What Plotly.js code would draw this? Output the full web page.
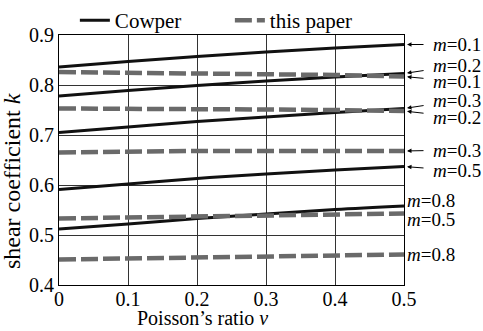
<!DOCTYPE html>
<html>
<head>
<meta charset="utf-8">
<script src="https://cdn.plot.ly/plotly-3.0.1.min.js"></script>
<style>html,body{margin:0;padding:0;background:#fff;}#chart{width:483px;height:331px;}</style>
</head>
<body>
<div id="chart"></div>
<script>
// Poisson's ratio samples
var nu = [0, 0.1, 0.2, 0.3, 0.4, 0.5];
// Cowper curves (solid black)
var cowperM01 = [0.836, 0.847, 0.857, 0.866, 0.874, 0.881];
var cowperM02 = [0.778, 0.789, 0.799, 0.808, 0.816, 0.823];
var cowperM03 = [0.705, 0.716, 0.727, 0.736, 0.745, 0.753];
var cowperM05 = [0.591, 0.602, 0.613, 0.622, 0.630, 0.637];
var cowperM08 = [0.512, 0.522, 0.533, 0.542, 0.551, 0.558];
// this paper curves (dashed gray)
var paperM01 = [0.826, 0.825, 0.824, 0.822, 0.820, 0.817];
var paperM02 = [0.753, 0.753, 0.752, 0.751, 0.750, 0.748];
var paperM03 = [0.665, 0.667, 0.668, 0.668, 0.668, 0.668];
var paperM05 = [0.533, 0.535, 0.537, 0.539, 0.541, 0.543];
var paperM08 = [0.451, 0.453, 0.455, 0.457, 0.459, 0.461];
var legendNames = ["Cowper", "this paper"];
var xTickVals = [0, 0.1, 0.2, 0.3, 0.4, 0.5];
var yTickVals = [0.4, 0.5, 0.6, 0.7, 0.8, 0.9];

var FONT = "Liberation Serif";
var cowperSets = [cowperM01, cowperM02, cowperM03, cowperM05, cowperM08];
var paperSets = [paperM01, paperM02, paperM03, paperM05, paperM08];
var traces = [];
cowperSets.forEach(function (ys, i) {
  traces.push({x: nu, y: ys, mode: "lines", name: legendNames[0], legendgroup: "c",
    showlegend: i === 0, line: {color: "#111", width: 3, shape: "spline"}});
});
paperSets.forEach(function (ys, i) {
  traces.push({x: nu, y: ys, mode: "lines", name: legendNames[1], legendgroup: "p",
    showlegend: i === 0, line: {color: "#6a6a6a", width: 4.5, dash: "17px,5px"}});
});

function lastOf(a) { return a[a.length - 1]; }
var labFont = {family: FONT, size: 19, color: "#000"};
function arrowLab(val, txt, ay) {
  return {x: 0.5, y: val, xref: "x", yref: "y", text: txt, showarrow: true,
    ax: 53, ay: ay, axref: "pixel", ayref: "pixel", arrowhead: 2, arrowsize: 0.9, arrowwidth: 1,
    arrowcolor: "#000", standoff: 3, startstandoff: 9, borderpad: 0, font: labFont};
}
function plainLab(val, txt) {
  return {x: 1, xref: "paper", y: val, yref: "y", text: txt, showarrow: false,
    xanchor: "left", yanchor: "middle", xshift: 2, borderpad: 0, font: labFont};
}
var annotations = [
  arrowLab(lastOf(cowperM01), "<i>m</i>=0.1", 0),
  arrowLab(lastOf(cowperM02), "<i>m</i>=0.2", -8),
  arrowLab(lastOf(paperM01), "<i>m</i>=0.1", 5),
  arrowLab(lastOf(cowperM03), "<i>m</i>=0.3", -8),
  arrowLab(lastOf(paperM02), "<i>m</i>=0.2", 6),
  arrowLab(lastOf(paperM03), "<i>m</i>=0.3", -1),
  arrowLab(lastOf(cowperM05), "<i>m</i>=0.5", 4),
  plainLab(0.569, "<i>m</i>=0.8"),
  plainLab(0.532, "<i>m</i>=0.5"),
  plainLab(0.462, "<i>m</i>=0.8"),
  {x: 0.417, y: -0.13, xref: "paper", yref: "paper", xanchor: "center", yanchor: "middle",
    text: "Poisson\u2019s ratio <i>v</i>",
    showarrow: false, font: {family: FONT, size: 20, color: "#000"}},
  {x: -0.136, y: 0.416, xref: "paper", yref: "paper", xanchor: "center", yanchor: "middle",
    text: "shear coefficient <i>k</i>",
    textangle: -90, showarrow: false, font: {family: FONT, size: 24, color: "#000"}}
];

var layout = {
  width: 483, height: 331,
  margin: {l: 59, r: 79, t: 35, b: 46, autoexpand: false},
  paper_bgcolor: "#fff", plot_bgcolor: "#fff",
  font: {family: FONT, size: 20, color: "#000"},
  showlegend: true,
  legend: {orientation: "h", xref: "paper", x: 0.046, xanchor: "left",
    yref: "container", y: 1.0, yanchor: "top",
    entrywidth: 110, entrywidthmode: "pixels", font: {family: FONT, size: 21, color: "#000"},
    bgcolor: "rgba(0,0,0,0)", tracegroupgap: 0, borderwidth: 0},
  xaxis: {range: [0, 0.5], tickvals: xTickVals, showgrid: true, gridcolor: "#333", gridwidth: 1,
    zeroline: false, showline: true, linecolor: "#000", linewidth: 1, mirror: true, ticks: "",
    ticklabelstandoff: -4,
    automargin: false, tickfont: {family: FONT, size: 20, color: "#000"}},
  yaxis: {range: [0.4, 0.9], tickvals: yTickVals, tickformat: ".1f", showgrid: true, gridcolor: "#333", gridwidth: 1,
    zeroline: false, showline: true, linecolor: "#000", linewidth: 1, mirror: true, ticks: "",
    automargin: false, tickfont: {family: FONT, size: 20, color: "#000"}},
  annotations: annotations
};
Plotly.newPlot("chart", traces, layout, {displayModeBar: false, staticPlot: true});
</script>
</body>
</html>
